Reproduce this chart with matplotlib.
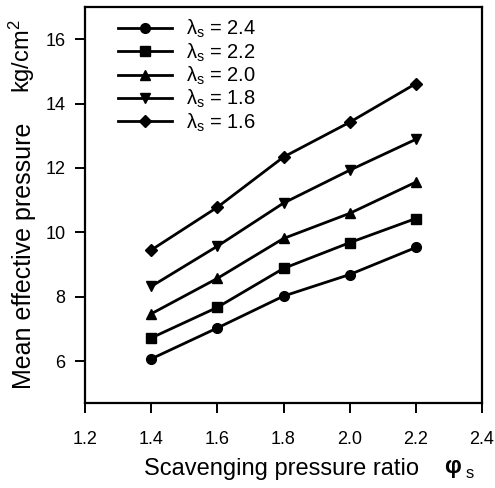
import matplotlib
matplotlib.use("Agg")
import matplotlib.pyplot as plt

plt.rcParams['font.family'] = ['Liberation Sans', 'DejaVu Sans']
plt.rcParams['mathtext.fontset'] = 'custom'
plt.rcParams['mathtext.rm'] = 'Liberation Sans'
plt.rcParams['mathtext.it'] = 'Liberation Sans:italic'
plt.rcParams['mathtext.bf'] = 'Liberation Sans:bold'

phi = [1.4, 1.6, 1.8, 2.0, 2.2]
lam_labels = ["2.4", "2.2", "2.0", "1.8", "1.6"]
mep_24 = [6.07, 7.03, 8.02, 8.69, 9.53]
mep_22 = [6.72, 7.67, 8.88, 9.68, 10.43]
mep_20 = [7.47, 8.57, 9.81, 10.59, 11.56]
mep_18 = [8.32, 9.57, 10.91, 11.93, 12.89]
mep_16 = [9.45, 10.78, 12.34, 13.42, 14.62]
series = [mep_24, mep_22, mep_20, mep_18, mep_16]
markers = ['o', 's', '^', 'v', 'D']
msizes = [7, 6.5, 7, 7, 6.5]

x_ticks = [1.2, 1.4, 1.6, 1.8, 2.0, 2.2, 2.4]
y_ticks = [6, 8, 10, 12, 14, 16]

W, H = 495, 488
fig = plt.figure(figsize=(W / 100, H / 100), dpi=100)
ax = fig.add_axes([85 / W, 1 - 403 / H, (482 - 85) / W, (403 - 7) / H])

for lab, ys, m, ms in zip(lam_labels, series, markers, msizes):
    ax.plot(phi, ys, color='black', lw=2.0, marker=m, ms=ms,
            label='λ$_{\\rm s}$ = ' + lab)

ax.set_xlim(1.2, 2.4)
ax.set_ylim(4.7, 17.0)
ax.set_xticks(x_ticks)
ax.set_xticklabels([f"{v:.1f}" for v in x_ticks])
ax.set_yticks(y_ticks)
ax.tick_params(direction='out', length=7, width=1.4, labelsize=13, colors='black')
ax.tick_params(axis='x', pad=13)
ax.tick_params(axis='y', pad=7)
for s in ax.spines.values():
    s.set_linewidth(1.6)

fig.text(282 / W, 1 - 469 / H, 'Scavenging pressure ratio', fontsize=17,
         ha='center', va='center')
fig.text(453 / W, 1 - 468 / H, r'$\boldsymbol{\varphi}$', fontsize=17,
         ha='center', va='center')
fig.text(470 / W, 1 - 473 / H, 's', fontsize=12, ha='center', va='center')

fig.text(24 / W, 1 - 256 / H, 'Mean effective pressure', fontsize=18,
         rotation=90, ha='center', va='center')
fig.text(22 / W, 1 - 56 / H, 'kg/cm$^{2}$', fontsize=17,
         rotation=90, ha='center', va='center')

leg = ax.legend(loc='upper left', bbox_to_anchor=(0.055, 1.0), frameon=False,
                fontsize=14.5, handlelength=2.7, labelspacing=0.05,
                handletextpad=0.7, borderaxespad=0.15)

fig.savefig('out.png', dpi=100)
